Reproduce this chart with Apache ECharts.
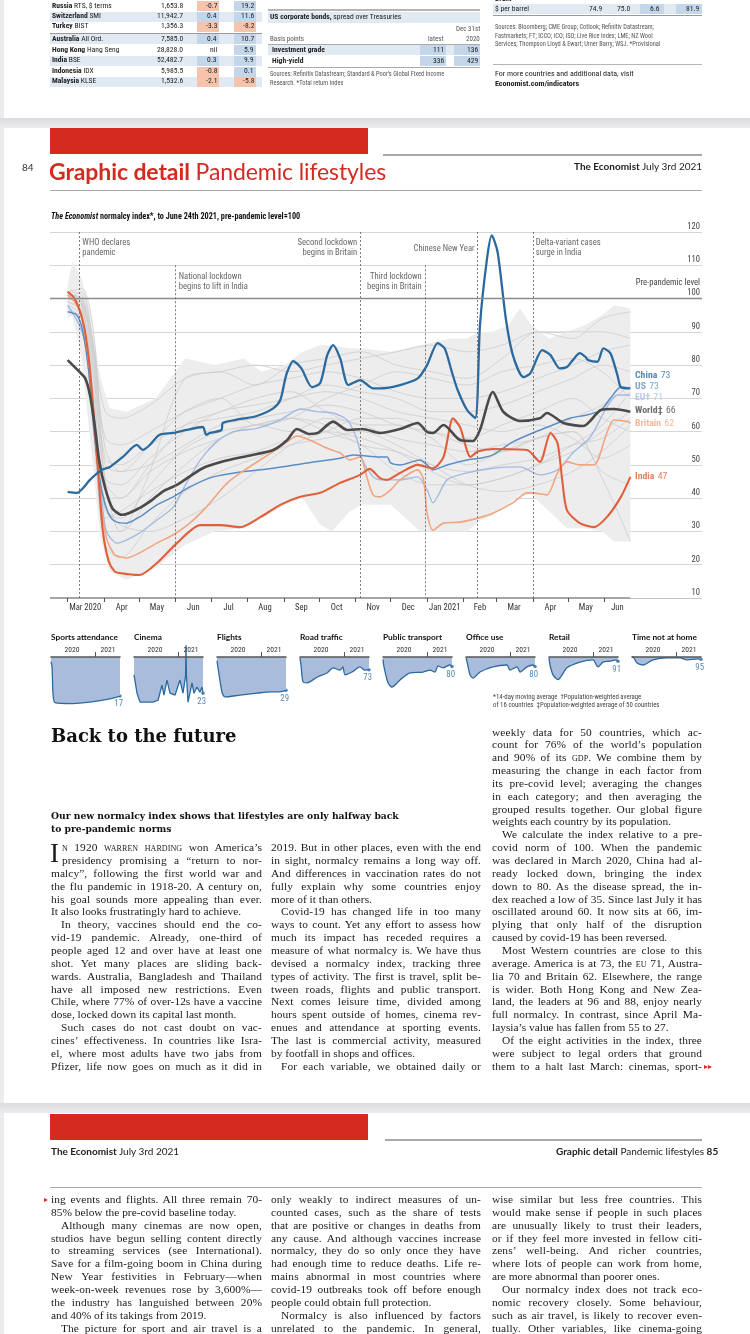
<!DOCTYPE html>
<html><head><meta charset="utf-8"><title>Graphic detail – Pandemic lifestyles</title>
<script src="https://cdn.jsdelivr.net/npm/echarts@6.0.0/dist/echarts.min.js"></script>
<style>
html,body{margin:0;padding:0;background:#fff}
#page{position:relative;width:750px;height:1334px;overflow:hidden;background:#fff;color:#1a1a1a}
.bg{position:absolute;z-index:0}
#chart{position:absolute;left:0;top:0;width:750px;height:1334px;z-index:2}
.t{position:absolute;z-index:3;white-space:nowrap;line-height:1.15;font-family:'Liberation Sans Narrow','Roboto Condensed',Roboto,sans-serif}
.bl{position:absolute;z-index:3;white-space:nowrap;font-family:'Liberation Serif','Times New Roman',serif;font-size:11.4px;line-height:13px;color:#1a1a1a}
.sc{font-variant:small-caps}
</style></head>
<body><div id="page"><div id="chart"></div></div>
<script>
// ---------------- DATA ----------------
// x values are days since 1 March 2020
const monthStarts = [0,31,61,92,122,153,184,214,245,275,306,337,365,396,426,457];
const monthLabelDays = [15,46,76,107,137,168,199,229,260,290,321,351,380,411,441,468];
const monthLabels = ['Mar 2020','Apr','May','Jun','Jul','Aug','Sep','Oct','Nov','Dec','Jan 2021','Feb','Mar','Apr','May','Jun'];

const world = [[0,81.5],[10,78],[15,76],[19,71],[23,62],[27,51],[32,43],[38,37],[44,35.2],[47,35],[61,37],[72,39.5],[81,42],[93,44],[115,49],[132,51],[153,52.7],[175,54.5],[187,57.5],[195,60.8],[206,59.3],[213,59.6],[226,63],[238,60.5],[251,60.8],[266,59.6],[283,60.8],[298,62.6],[306,59.9],[311,59.6],[320,62],[334,57.5],[345,57.2],[351,60.5],[362,71.9],[371,65.9],[385,63.2],[402,64],[408,65.6],[422,62.6],[439,61.7],[454,66.5],[465,66.8],[479,66]];
const china = [[0,41.9],[8,41.6],[13,43],[19,45.5],[29,48.5],[36,49.4],[47,52.4],[59,56],[64,54.5],[70,56],[78,59],[90,59.6],[101,60.5],[115,61.4],[118,59],[121,59.6],[131,60.5],[132,62.6],[147,63.8],[161,64.7],[175,67],[181,69.5],[185,75.5],[187,78],[192,81.2],[199,79],[208,73.4],[215,74.6],[221,83],[226,86],[232,82],[239,74],[249,75.5],[260,73],[266,73],[283,74],[298,76],[306,80],[315,86.6],[321,85],[327,78],[332,72.5],[340,66.5],[347,64.1],[351,92],[357,112],[361,119],[366,114],[373,94],[379,83],[388,76.4],[394,77.6],[404,84.5],[411,83],[419,79],[425,79.4],[430,81.5],[436,83.6],[441,82.4],[443,81.5],[451,81],[456,85],[462,83.6],[468,77],[471,73.4],[479,73]];
const us = [[0,96],[8,95],[13,90],[18,78],[22,62],[27,46],[32,38],[37,34],[42,32.8],[50,32.5],[61,34.3],[76,38],[90,40.4],[104,43.4],[124,46.4],[147,47.9],[175,49],[204,50.6],[232,52],[243,53],[266,52.4],[272,52.4],[275,50.6],[283,50],[300,51.5],[306,50],[311,48.5],[323,50],[340,51.5],[351,52],[362,53],[379,56.9],[396,59.6],[413,62],[428,64.1],[442,65],[454,66.5],[462,70],[471,73.4],[479,73]];
const eu = [[0,98],[10,92],[16,85],[21,70],[25,55],[29,40],[33,30],[42,26.5],[50,27.4],[61,29.5],[76,33.4],[90,37.3],[98,42.5],[113,51.5],[127,57],[141,60],[161,61],[181,63.5],[198,66.8],[212,66],[226,65.6],[238,63.5],[246,58],[251,51.5],[260,46.4],[266,45.5],[283,45.5],[298,46.4],[306,42.5],[311,38.6],[323,45.5],[340,47.6],[362,49],[385,49.4],[402,47],[417,48.5],[430,53.6],[445,58.4],[459,67.4],[468,71],[479,71]];
const britain = [[0,101],[6,99],[12,95],[16,87],[20,75],[24,58],[28,40],[33,28],[40,23],[46,22.3],[50,22],[61,23.5],[76,26.5],[90,29],[104,32.5],[118,37.3],[136,44.6],[153,49],[175,54],[187,57],[195,58.7],[204,57.8],[221,55],[232,53.6],[240,51.5],[249,52.4],[255,46],[260,41],[266,40.4],[275,42.5],[283,45.5],[298,48.5],[303,45.5],[306,35.5],[311,30.4],[320,32.5],[334,32.8],[349,34],[362,35.5],[379,38.6],[391,41.6],[396,41.6],[408,41],[417,47.6],[425,50.9],[436,50],[448,50],[459,59.6],[465,63.5],[477,63],[479,62.5]];
const india = [[0,102],[6,100],[13,93],[18,82],[22,66],[26,48],[30,30],[35,21],[40,18],[44,17.5],[61,16.9],[76,20.5],[93,26.5],[113,31.9],[130,31.9],[147,31.3],[164,34.3],[181,38],[198,40.4],[215,41.6],[232,44.6],[249,47],[257,48.8],[266,46],[272,45.5],[283,47.6],[298,50],[311,49],[320,52.4],[328,64],[334,61.4],[343,52.4],[349,54],[362,54.8],[391,54.5],[402,50.9],[411,59.6],[417,56.6],[421,45.5],[425,36.4],[436,32.5],[448,31.3],[459,34.3],[471,40.4],[479,46.4]];

// range of all 50 countries
const bandDays  = [0,4,12,20,28,36,50,75,100,125,150,165,185,200,215,225,240,250,275,300,325,340,350,362,375,385,395,410,425,440,455,465,479];
const bandUpper = [104,111,106,95,76,67,66,70,82,80,82,78,80,84,86,86,85,85,84,86,88,88,90,90,92,97,92,88,90,92,95,98,97];
const bandLower = [94,95,82,55,28,18,15.5,19,26,30,31,34,38,40,32,30,36,38,38,30,30,30,33,35,38,41,41,36,31,31,30,27,27];

// a selection of other countries (estimated)
const otherDays = [0,12,22,32,45,70,100,130,160,190,220,250,280,310,340,370,400,430,455,479];
const others = [
 [100,102,85,66,64,68,76,78,74,80,82,84,80,78,76,82,90,88,94,96],
 [102,103,90,45,30,48,76,78,80,78,80,82,84,86,84,86,90,90,90,88],
 [101,100,82,50,48,56,66,70,62,64,70,74,78,76,74,78,80,82,78,70],
 [100,99,78,45,40,50,62,66,70,72,66,62,62,58,50,54,58,60,46,27],
 [100,98,70,36,34,44,55,60,62,64,62,56,54,50,48,50,52,56,58,64],
 [99,96,65,30,30,40,50,58,62,64,60,56,48,44,44,46,50,56,62,72],
 [100,99,80,46,44,52,60,66,68,70,72,70,66,64,62,60,62,58,52,56],
 [102,101,86,55,48,50,56,62,64,66,68,66,62,60,58,62,66,70,64,60],
 [98,95,60,26,22,32,42,48,52,56,58,60,56,50,44,42,44,48,54,62],
 [100,99,84,52,50,56,62,64,66,70,74,72,70,66,66,68,72,76,80,78],
 [100,98,72,38,32,30,34,40,48,56,60,64,64,60,56,54,58,60,48,44],
 [99,97,76,40,40,48,54,58,62,60,64,62,58,56,54,56,58,64,68,74],
 [101,100,84,58,56,60,66,70,74,76,78,76,72,70,70,72,76,80,84,86],
 [97,94,62,34,36,42,48,52,54,58,60,58,54,48,44,46,50,54,60,66]
];

const eventDays  = [10,92,249,304,349,396];
const eventTexts = ['WHO declares\npandemic','National lockdown\nbegins to lift in India','Second lockdown\nbegins in Britain','Third lockdown\nbegins in Britain','Chinese New Year','Delta-variant cases\nsurge in India'];

const endNames  = ['China','US','EU†','World‡','Britain','India'];
const endValues = [73,73,71,66,62,47];

// activity panels
const panelTitles = ['Sports attendance','Cinema','Flights','Road traffic','Public transport','Office use','Retail','Time not at home'];
const sports   = [[0,90],[7,80],[14,22],[28,3],[150,1],[270,4],[390,10],[479,17]];
const cinema   = [[0,62],[21,23],[42,4],[132,4],[167,8],[194,40],[208,19],[229,51],[250,23],[285,19],[319,51],[340,23],[358,60],[361,125],[364,60],[375,4],[403,45],[416,23],[437,36],[458,25],[472,36],[479,23]];
const flights  = [[0,92],[7,77],[35,25],[56,15],[160,19],[278,23],[368,26],[437,26],[479,29]];
const road     = [[0,98],[7,83],[21,47],[49,45],[118,57],[187,66],[229,77],[278,72],[298,79],[312,62],[361,68],[416,79],[451,72],[479,73]];
const publicTr = [[0,95],[7,79],[35,45],[62,36],[118,51],[187,66],[278,68],[326,72],[361,68],[382,81],[416,77],[465,83],[479,80]];
const office   = [[0,98],[7,90],[28,62],[49,55],[97,68],[187,79],[285,83],[305,72],[354,79],[375,68],[423,79],[465,83],[479,80]];
const retail   = [[0,98],[7,83],[28,62],[62,52],[125,77],[215,89],[305,94],[340,79],[375,89],[423,91],[465,94],[479,91]];
const timeHome = [[0,100],[7,100],[35,87],[76,83],[146,94],[243,98],[333,98],[382,94],[458,96],[479,95]];
const panelYears = ['2020','2021'];

// ---------------- PAGE TEXT / FURNITURE ----------------
const page = document.getElementById('page');
function R(x,y,w,h,c,extra){const d=document.createElement('div');d.className='bg';Object.assign(d.style,{left:x+'px',top:y+'px',width:w+'px',height:h+'px',background:c},extra||{});page.appendChild(d);return d;}
function T(x,yc,html,style,align){const d=document.createElement('div');d.className='t';d.innerHTML=html;Object.assign(d.style,style||{});page.appendChild(d);
  const h=d.offsetHeight,w=d.offsetWidth;d.style.top=(yc-h/2)+'px';
  d.style.left=(align==='right'?x-w:align==='center'?x-w/2:x)+'px';return d;}
const SANS="'Liberation Sans Narrow','Roboto Condensed',Roboto,sans-serif";
const HEAD="Lato,'Open Sans',sans-serif";
const RED='#d42a20';

// page gaps and edges
R(0,0,4,1334,'#ececee');
R(0,118,750,10,'linear-gradient(#dcdcde,#ececee)');
R(0,1103,750,10,'linear-gradient(#dcdcde,#ececee)');

// ---- previous page: markets tables ----
const idxNames=[['Russia','RTS, $ terms'],['Switzerland','SMI'],['Turkey','BIST'],['Australia','All Ord.'],['Hong Kong','Hang Seng'],['India','BSE'],['Indonesia','IDX'],['Malaysia','KLSE']];
const idxLevel=['1,653.8','11,942.7','1,356.3','7,585.0','28,828.0','52,482.7','5,985.5','1,532.6'];
const idxWeek=['-0.7','0.4','-3.3','0.4','nil','0.3','-0.8','-2.1'];
const idxYear=['19.2','11.6','-8.2','10.7','5.9','9.9','0.1','-5.8'];
const rowY=[6,16.7,26.7,39.3,50,60.7,71.7,81.7];
const tf={fontSize:'7.6px',color:'#222'};
rowY.forEach((y,i)=>{
  if(i%2===1) R(50,y-5,212,10,'#e1eaf3');
  const cell=(x,v)=>{const c=v==='nil'?null:(v[0]==='-'?'#f6c4ad':'#c3d6ea'); if(c) R(x,y-5,22,10,c);
     T(x+20,y,v,tf,'right');};
  cell(197,idxWeek[i]); cell(234,idxYear[i]);
  T(52,y,'<b>'+idxNames[i][0]+'</b> '+idxNames[i][1],tf);
  T(183,y,idxLevel[i],tf,'right');
});
R(50,32.5,212,1.4,'#9a9a9a');
// bonds
R(268,9,212,2,'#b5b5b5'); R(268,11.5,212,11,'#e1eaf3');
T(270,17,'<b>US corporate bonds,</b> spread over Treasuries',tf);
T(480,29,'Dec 31st',Object.assign({},tf,{color:'#555',fontSize:'7px'}),'right');
T(270,38.5,'Basis points',Object.assign({},tf,{color:'#555',fontSize:'7px'}));
T(444,38.5,'latest',Object.assign({},tf,{color:'#555',fontSize:'7px'}),'right');
T(480,38.5,'2020',Object.assign({},tf,{color:'#555',fontSize:'7px'}),'right');
R(268,43.5,212,0.8,'#aaa');
R(268,45,212,10,'#e1eaf3'); R(420,45,26,10,'#c3d6ea'); R(454,45,26,10,'#c3d6ea');
T(272,50,'<b>Investment grade</b>',tf); T(444,50,'111',tf,'right'); T(478,50,'136',tf,'right');
R(420,56,26,10,'#c3d6ea'); R(454,56,26,10,'#c3d6ea');
T(272,61,'<b>High-yield</b>',tf); T(444,61,'336',tf,'right'); T(478,61,'429',tf,'right');
R(268,66.5,212,0.8,'#aaa');
T(270,74,'Sources: Refinitiv Datastream; Standard &amp; Poor’s Global Fixed Income',{fontSize:'6.4px',color:'#555'});
T(270,83,'Research. *Total return index',{fontSize:'6.4px',color:'#555'});
// commodities
T(495,-1,'<b>Brent</b>',tf);
R(493,4,209,10,'#e1eaf3'); R(640,4,24,10,'#c3d6ea'); R(676,4,26,10,'#c3d6ea');
T(495,9,'$ per barrel',tf); T(602,9,'74.9',tf,'right'); T(630,9,'75.0',tf,'right'); T(660,9,'6.6',tf,'right'); T(699,9,'81.9',tf,'right');
R(493,15,209,1.4,'#9a9a9a');
T(495,27,'Sources: Bloomberg; CME Group; Cotlook; Refinitiv Datastream;',{fontSize:'6.4px',color:'#555'});
T(495,36,'Fastmarkets; FT; ICCO; ICO; ISO; Live Rice Index; LME; NZ Wool',{fontSize:'6.4px',color:'#555'});
T(495,44.5,'Services; Thompson Lloyd &amp; Ewart; Urner Barry; WSJ. *Provisional',{fontSize:'6.4px',color:'#555'});
R(493,64,209,1.4,'#b5b5b5');
T(495,73.5,'For more countries and additional data, visit',{fontSize:'8px',color:'#222'});
T(495,83,'<b>Economist.com/indicators</b>',{fontSize:'8px',color:'#222'});

// ---- page 84 header ----
R(50,128,318,26,RED);
R(383,154,319,1.6,'#a8a8a8');
T(22,168,'84',{fontFamily:HEAD,fontSize:'10px',color:'#333'});
T(49,171,'<b>Graphic detail</b> Pandemic lifestyles',{fontFamily:HEAD,fontSize:'23px',color:RED,letterSpacing:'-0.1px'});
T(702,167,'<b>The Economist</b> July 3rd 2021',{fontFamily:HEAD,fontSize:'10px',color:'#222'},'right');
R(50,189.5,652,1.6,'#a8a8a8');
T(51,216.5,'<i>The Economist</i> normalcy index*, to June 24th 2021, pre-pandemic level=100',{fontFamily:SANS,fontSize:'8.2px',fontWeight:'bold',color:'#111'});

// panel titles and footnote
panelTitles.forEach((s,i)=>T(51+i*83,638,s,{fontFamily:HEAD,fontSize:'8.3px',fontWeight:'bold',color:'#111'}));
T(493,697.5,'*14-day moving average &nbsp;†Population-weighted average',{fontFamily:SANS,fontSize:'6.8px',color:'#444'});
T(493,706,'of 16 countries &nbsp;‡Population-weighted average of 50 countries',{fontFamily:SANS,fontSize:'6.8px',color:'#444'});

// ---- article ----
T(51,736,'Back to the future',{fontFamily:"'DejaVu Serif',serif",fontSize:'18px',fontWeight:'bold',color:'#111'});
T(51,816,'Our new normalcy index shows that lifestyles are only halfway back',{fontFamily:"'DejaVu Serif',serif",fontSize:'9.2px',fontWeight:'bold',color:'#111'});
T(51,829,'to pre-pandemic norms',{fontFamily:"'DejaVu Serif',serif",fontSize:'9.2px',fontWeight:'bold',color:'#111'});

const p84c1=['<span class="sc">n 1920 warren harding</span> won America’s','presidency promising a “return to nor-','malcy”, following the first world war and','the flu pandemic in 1918-20. A century on,','his goal sounds more appealing than ever.','It also looks frustratingly hard to achieve.$','^In theory, vaccines should end the co-','vid-19 pandemic. Already, one-third of','people aged 12 and over have at least one','shot. Yet many places are sliding back-','wards. Australia, Bangladesh and Thailand','have all imposed new restrictions. Even','Chile, where 77% of over-12s have a vaccine','dose, locked down its capital last month.$','^Such cases do not cast doubt on vac-','cines’ effectiveness. In countries like Isra-','el, where most adults have two jabs from','Pfizer, life now goes on much as it did in'];
const p84c2=['2019. But in other places, even with the end','in sight, normalcy remains a long way off.','And differences in vaccination rates do not','fully explain why some countries enjoy','more of it than others.$','^Covid-19 has changed life in too many','ways to count. Yet any effort to assess how','much its impact has receded requires a','measure of what normalcy is. We have thus','devised a normalcy index, tracking three','types of activity. The first is travel, split be-','tween roads, flights and public transport.','Next comes leisure time, divided among','hours spent outside of homes, cinema rev-','enues and attendance at sporting events.','The last is commercial activity, measured','by footfall in shops and offices.$','^For each variable, we obtained daily or'];
const p84c3=['weekly data for 50 countries, which ac-','count for 76% of the world’s population','and 90% of its <span class="sc">gdp</span>. We combine them by','measuring the change in each factor from','its pre-covid level; averaging the changes','in each category; and then averaging the','grouped results together. Our global figure','weights each country by its population.$','^We calculate the index relative to a pre-','covid norm of 100. When the pandemic','was declared in March 2020, China had al-','ready locked down, bringing the index','down to 80. As the disease spread, the in-','dex reached a low of 35. Since last July it has','oscillated around 60. It now sits at 66, im-','plying that only half of the disruption','caused by covid-19 has been reversed.$','^Most Western countries are close to this','average. America is at 73, the <span class="sc">eu</span> 71, Austra-','lia 70 and Britain 62. Elsewhere, the range','is wider. Both Hong Kong and New Zea-','land, the leaders at 96 and 88, enjoy nearly','full normalcy. In contrast, since April Ma-','laysia’s value has fallen from 55 to 27.$','^Of the eight activities in the index, three','were subject to legal orders that ground','them to a halt last March: cinemas, sport-'];
const p85c1=['ing events and flights. All three remain 70-','85% below the pre-covid baseline today.$','^Although many cinemas are now open,','studios have begun selling content directly','to streaming services (see International).','Save for a film-going boom in China during','New Year festivities in February—when','week-on-week revenues rose by 3,600%—','the industry has languished between 20%','and 40% of its takings from 2019.$','^The picture for sport and air travel is a'];
const p85c2=['only weakly to indirect measures of un-','counted cases, such as the share of tests','that are positive or changes in deaths from','any cause. And although vaccines increase','normalcy, they do so only once they have','had enough time to reduce deaths. Life re-','mains abnormal in most countries where','covid-19 outbreaks took off before enough','people could obtain full protection.$','^Normalcy is also influenced by factors','unrelated to the pandemic. In general,'];
const p85c3=['wise similar but less free countries. This','would make sense if people in such places','are unusually likely to trust their leaders,','or if they feel more invested in fellow citi-','zens’ well-being. And richer countries,','where lots of people can work from home,','are more abnormal than poorer ones.$','^Our normalcy index does not track eco-','nomic recovery closely. Some behaviour,','such as air travel, is likely to recover even-','tually. Other variables, like cinema-going'];

function column(lines,x,y0,lh,w,firstIndent){
  lines.forEach((raw,i)=>{
    let s=raw,ind=0,end=false;
    if(s[0]==='^'){s=s.slice(1);ind=10;}
    if(s.endsWith('$')){s=s.slice(0,-1);end=true;}
    if(firstIndent&&i<2)ind=firstIndent;
    const d=document.createElement('div');d.className='bl';d.innerHTML=s;
    d.style.left=(x+ind)+'px';d.style.top=(y0+i*lh-6.5)+'px';page.appendChild(d);
    const nat=d.getBoundingClientRect().width,target=w-ind;
    const txt=d.textContent,sp=(txt.match(/ /g)||[]).length,n=txt.length;
    if(nat>target){ // squeeze letters and spaces
      const diff=target-nat;
      d.style.letterSpacing=(diff*0.6/n).toFixed(3)+'px';
      if(sp) d.style.wordSpacing=(diff*0.4/sp).toFixed(3)+'px';
    } else if(!end && sp){
      const diff=target-nat;
      d.style.letterSpacing=(Math.min(diff*0.15/n,0.25)).toFixed(3)+'px';
      const used=parseFloat(d.style.letterSpacing)*n;
      d.style.wordSpacing=((diff-used)/sp).toFixed(3)+'px';
    }
  });
}
const LH=12.85;
column(p84c1,51,732+9*LH,LH,211,11);
column(p84c2,271,732+9*LH,LH,210);
column(p84c3,492,732,LH,210);
T(50,853,'I',{fontFamily:"'Liberation Serif',serif",fontSize:'27px',color:'#1a1a1a',lineHeight:'1'});
T(704,732+26*LH,'▸▸',{fontSize:'8px',color:RED});

// ---- page 85 ----
R(50,1114,318,26,RED);
R(385,1139,317,1.6,'#a8a8a8');
T(51,1152,'<b>The Economist</b> July 3rd 2021',{fontFamily:HEAD,fontSize:'10px',color:'#222'});
T(718,1152,'<b>Graphic detail</b> Pandemic lifestyles <b>85</b>',{fontFamily:HEAD,fontSize:'10px',color:'#222'},'right');
R(50,1186.5,652,1.6,'#a8a8a8');
column(p85c1,51,1199.5,LH,211);
column(p85c2,271,1199.5,LH,210);
column(p85c3,492,1199.5,LH,210);
T(44,1199.5,'▸',{fontSize:'8px',color:RED});

// ---------------- CHART ----------------
const chart=echarts.init(document.getElementById('chart'),null,{renderer:'canvas',width:750,height:1334});
const C={china:'#2b6a9e',us:'#5b8dc6',eu:'#a3bbe2',world:'#4a4a4a',britain:'#f2a581',india:'#e0603c',grey:'#cdcdcd',band:'#ededed',panelFill:'#a9bcdc'};
const grids=[{left:50,top:232,width:652,height:366}];
const xAxes=[{gridIndex:0,type:'value',min:-15,max:540,splitLine:{show:false},
  axisLine:{show:false,onZero:false},
  axisTick:{show:true,customValues:monthStarts,length:4,lineStyle:{color:'#555',width:1}},
  axisLabel:{customValues:monthLabelDays,formatter:v=>monthLabels[monthLabelDays.indexOf(v)],fontSize:8.6,color:'#333',margin:5,fontFamily:SANS}}];
const splitColors=['#c4c4c4','#d6d6d6','#d6d6d6','#d6d6d6','#d6d6d6','#d6d6d6','#d6d6d6','#d6d6d6','#d6d6d6','#8c8c8c','#d6d6d6','#d6d6d6'];
const yAxes=[{gridIndex:0,type:'value',min:10,max:120,interval:10,position:'right',
  axisLine:{show:false},axisTick:{show:false},
  axisLabel:{inside:true,align:'right',verticalAlign:'bottom',margin:2,fontSize:8.6,lineHeight:10.5,color:'#444',fontFamily:SANS,
    formatter:v=>v===100?'Pre-pandemic level\n100':String(v)},
  splitLine:{lineStyle:{color:splitColors,width:1}}}];

const series=[];
const line=(data,color,width,extra)=>Object.assign({type:'line',xAxisIndex:0,yAxisIndex:0,data,showSymbol:false,symbol:'none',smooth:0.25,
  lineStyle:{color,width},silent:true},extra||{});

// band: range of all countries, drawn as one polygon through the axis scales
series.push({type:'custom',xAxisIndex:0,yAxisIndex:0,silent:true,data:[0],z:1,
  renderItem:(params,api)=>{
    const top=bandDays.map((d,i)=>api.coord([d,bandUpper[i]]));
    const bot=bandDays.map((d,i)=>api.coord([d,bandLower[i]])).reverse();
    return {type:'polygon',shape:{points:top.concat(bot)},style:{fill:C.band}};
  }});
// other countries
others.forEach(vals=>series.push(line(otherDays.map((d,i)=>[d,vals[i]]),C.grey,0.8,{smooth:0.3})));
// axis base line + event lines + pre-pandemic line
const eventTop=[120,110,120,110,120,120];
series.push(line([[-15,10],[479,10]],'#4d4d4d',1.2,{smooth:false,
  markLine:{silent:true,symbol:'none',label:{show:false},
    data:[[{coord:[-15,100],lineStyle:{type:'solid',color:'#8c8c8c',width:1.4}},{coord:[540,100]}]]
      .concat(eventDays.map((d,i)=>[{coord:[d,eventTop[i]]},{coord:[d,10]}])),
    lineStyle:{type:[2,2],color:'#6e6e6e',width:0.9}}}));
// highlighted lines
series.push(line(eu,C.eu,1.4));
series.push(line(us,C.us,1.5));
series.push(line(britain,C.britain,1.6));
series.push(line(india,C.india,2.1));
series.push(line(world,C.world,2.6));
series.push(line(china,C.china,2.3));

// event annotations
const eventLabelY=[115.2,105.1,115.2,105.1,114.9,115.2];
const eventSide=['right','right','left','left','left','right'];
series.push({type:'scatter',xAxisIndex:0,yAxisIndex:0,symbolSize:0,silent:true,z:10,
  data:eventDays.map((d,i)=>({value:[d,eventLabelY[i]],label:{position:eventSide[i],align:eventSide[i]==='left'?'right':'left',formatter:eventTexts[i]}})),
  label:{show:true,distance:3,fontSize:8.6,lineHeight:10.2,color:'#3c3c3c',fontFamily:SANS}});
// end labels
const endColors=[C.china,C.us,C.eu,C.world,C.britain,C.india];
const endLabelY=[77,73.5,70.2,66.3,62.3,46.5];
series.push({type:'scatter',xAxisIndex:0,yAxisIndex:0,symbolSize:0,silent:true,z:10,
  data:endNames.map((n,i)=>({value:[483,endLabelY[i]],label:{formatter:'{n|'+n+'} {v|'+endValues[i]+'}',
     rich:{n:{fontWeight:'bold',color:endColors[i],fontSize:9.8,fontFamily:SANS},v:{color:endColors[i],fontSize:9.8,fontFamily:SANS}}}})),
  label:{show:true,position:'right',distance:0}});

// activity panels
const panelData=[sports,cinema,flights,road,publicTr,office,retail,timeHome];
panelData.forEach((data,k)=>{
  const g=k+1;
  grids.push({left:51+k*83,top:657,width:69,height:47});
  xAxes.push({gridIndex:g,type:'value',min:0,max:479,position:'top',z:5,splitLine:{show:false},
    axisLine:{show:true,onZero:false,lineStyle:{color:'#555',width:1.6}},
    axisTick:{show:true,customValues:[306],length:5,lineStyle:{color:'#555',width:1}},
    axisLabel:{customValues:[146,396],formatter:v=>panelYears[v<306?0:1],fontSize:7.6,color:'#333',margin:3,fontFamily:SANS}});
  yAxes.push({gridIndex:g,type:'value',min:0,max:100,show:false});
  series.push({type:'line',xAxisIndex:g,yAxisIndex:g,data,symbol:'none',silent:true,clip:false,smooth:k===1?false:0.25,
    lineStyle:{color:C.china,width:1.3},areaStyle:{origin:'end',color:C.panelFill,opacity:1}});
  const last=data[data.length-1];
  series.push({type:'scatter',xAxisIndex:g,yAxisIndex:g,silent:true,symbolSize:3.5,itemStyle:{color:C.china},
    data:[last],label:{show:true,position:'bottom',align:'right',offset:[3,0],distance:2,formatter:p=>String(p.value[1]),
      fontSize:8.8,color:C.china,fontFamily:SANS}});
});

chart.setOption({animation:false,backgroundColor:'transparent',grid:grids,xAxis:xAxes,yAxis:yAxes,series});
</script>
</body></html>
